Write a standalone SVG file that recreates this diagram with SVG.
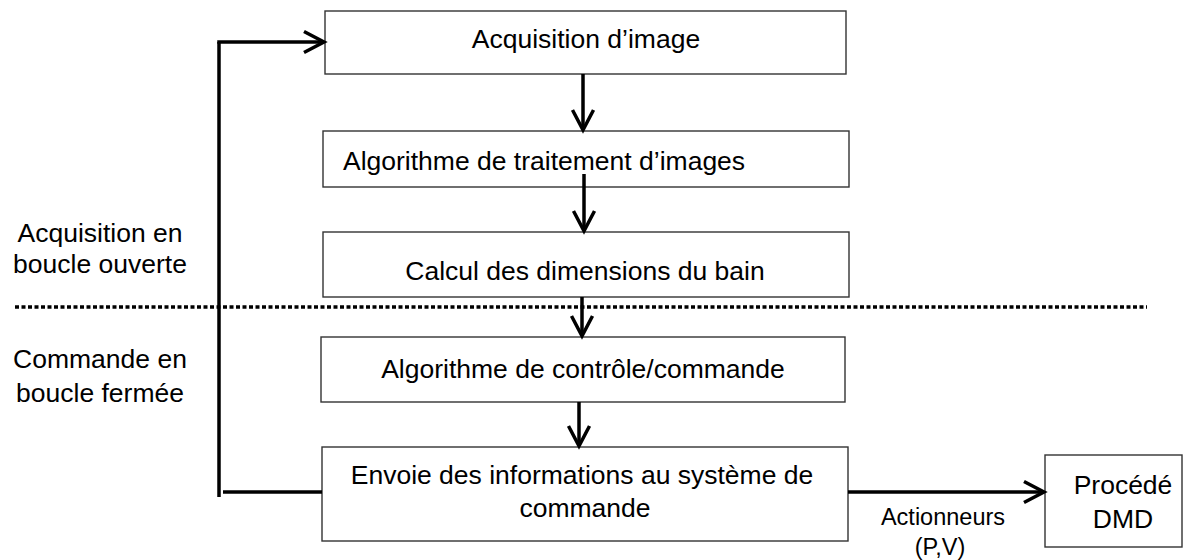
<svg xmlns="http://www.w3.org/2000/svg" width="1192" height="560" viewBox="0 0 1192 560">
<style>
  .box{fill:#fff;stroke:#333;stroke-width:1.4}
  .t{font-family:"Liberation Sans",Arial,sans-serif;font-size:26.5px;fill:#000}
  .c{text-anchor:middle}
  .ln{fill:none;stroke:#000;stroke-width:3.5}
  .sep{fill:none;stroke:#000;stroke-width:3.5;stroke-dasharray:4 2.5}
</style>
<defs>
  <marker id="arr" markerUnits="userSpaceOnUse" viewBox="-24 -14 28 28" refX="0" refY="0" markerWidth="28" markerHeight="28" orient="auto">
    <path d="M -20 -10.5 L 0 0 L -20 10.5" fill="none" stroke="#000" stroke-width="3.5"/>
  </marker>
</defs>
<rect width="1192" height="560" fill="#fff"/>
<g id="labels">
  <text class="t c" x="100" y="242">Acquisition en</text>
  <text class="t c" x="100" y="273">boucle ouverte</text>
  <text class="t c" x="100" y="368">Commande en</text>
  <text class="t c" x="100" y="402">boucle fermée</text>
</g>
<g id="separator">
  <line class="sep" x1="15" y1="307" x2="1147" y2="307"/>
</g>
<g id="n1">
  <rect class="box" x="325" y="11" width="521" height="63"/>
  <text class="t c" x="586" y="48">Acquisition d’image</text>
</g>
<g id="n2">
  <rect class="box" x="323" y="131" width="526" height="56"/>
  <text class="t" x="343" y="170">Algorithme de traitement d’images</text>
</g>
<g id="n3">
  <rect class="box" x="323" y="232" width="526" height="65"/>
  <text class="t c" x="585" y="280">Calcul des dimensions du bain</text>
</g>
<g id="n4">
  <rect class="box" x="321" y="337" width="524" height="65"/>
  <text class="t c" x="583" y="378">Algorithme de contrôle/commande</text>
</g>
<g id="n5">
  <rect class="box" x="322" y="447" width="526" height="94"/>
  <text class="t c" x="582" y="484">Envoie des informations au système de</text>
  <text class="t c" x="585" y="517">commande</text>
</g>
<g id="n6">
  <rect class="box" x="1045" y="455" width="137" height="92"/>
  <text class="t c" x="1123" y="494">Procédé</text>
  <text class="t c" x="1123" y="528">DMD</text>
</g>
<g id="connectors">
  <line class="ln" x1="583" y1="74" x2="583" y2="130" marker-end="url(#arr)"/>
  <line class="ln" x1="584" y1="174" x2="584" y2="231" marker-end="url(#arr)"/>
  <line class="ln" x1="582" y1="297" x2="582" y2="336" marker-end="url(#arr)"/>
  <line class="ln" x1="579" y1="402" x2="579" y2="446" marker-end="url(#arr)"/>
  <line class="ln" x1="848" y1="492" x2="1044" y2="492" marker-end="url(#arr)"/>
  <line class="ln" x1="219" y1="497" x2="219" y2="42"/>
  <line class="ln" x1="217.25" y1="42" x2="324" y2="42" marker-end="url(#arr)"/>
  <line class="ln" x1="223" y1="492" x2="322" y2="492"/>
  <text class="t c" x="943" y="525" style="font-size:23.5px">Actionneurs</text>
  <text class="t c" x="940" y="555" style="font-size:23.5px">(P,V)</text>
</g>
</svg>
